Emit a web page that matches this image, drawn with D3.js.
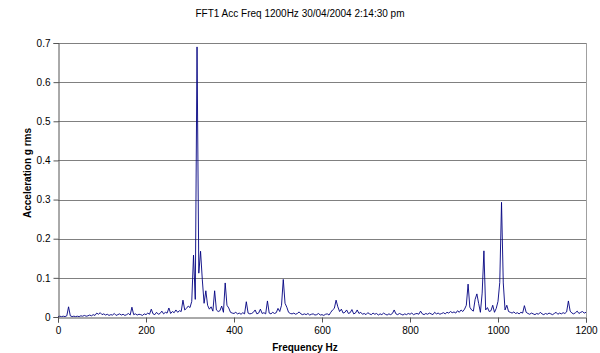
<!DOCTYPE html>
<html>
<head>
<meta charset="utf-8">
<script src="https://cdn.jsdelivr.net/npm/d3@7"></script>
<style>
  body { margin: 0; background: #fff; }
  text { font-family: "Liberation Sans", Arial, sans-serif; fill: #000; }
</style>
</head>
<body>
<div id="chart"></div>
<script>
(function() {
    'use strict';

    const chartTitle = "FFT1 Acc Freq 1200Hz 30/04/2004 2:14:30 pm";
    const xLabel = "Frequency Hz";
    const yLabel = "Acceleration g rms";
    const xTicks = [0, 200, 400, 600, 800, 1000, 1200];
    const yTicks = [0, 0.1, 0.2, 0.3, 0.4, 0.5, 0.6, 0.7];

    // spectrum lines, one every 4 Hz from 0 to 1200 Hz, amplitude in milli-g rms
    const binHz = 4;
    const ampMg = [
        1,2,1,2,1,3,26,3,1,2,
        1,2,1,3,2,4,2,3,5,3,
        6,4,10,7,11,6,8,5,7,4,
        6,5,9,4,6,8,5,7,4,6,
        9,5,25,6,8,5,7,6,4,8,
        6,10,7,20,8,6,12,7,9,15,
        8,12,10,23,9,14,11,18,12,16,
        14,43,18,22,28,24,40,158,45,690,
        112,168,95,35,67,30,20,26,15,67,
        18,14,16,28,12,87,30,23,12,10,
        9,12,8,10,7,11,8,39,10,8,
        9,12,18,8,10,20,9,11,8,41,
        10,8,12,9,11,22,14,30,96,35,
        25,12,9,8,10,7,9,13,8,6,
        8,6,9,5,7,8,5,6,9,5,
        6,4,7,8,5,12,18,22,43,26,
        14,20,10,12,18,9,11,19,8,10,
        18,9,12,7,9,6,11,8,6,10,
        7,9,5,8,6,10,7,5,8,6,
        9,18,8,6,9,7,5,8,6,9,
        7,10,6,8,9,7,15,8,6,9,
        7,10,8,6,12,8,10,7,9,11,
        8,12,10,14,11,13,10,16,12,18,
        14,20,30,84,25,18,15,45,59,35,
        12,61,169,18,24,14,16,30,12,22,
        40,88,293,87,18,30,14,12,10,13,
        9,11,8,12,10,29,12,9,7,10,
        8,6,9,7,12,8,6,9,7,10,
        8,6,9,12,7,10,8,11,9,13,
        41,15,10,8,11,15,9,12,14,10,12
    ];

    const width = 600;
    const height = 353;
    const margin = { top: 43, right: 14, bottom: 36, left: 58 };

    const svg = d3.select("#chart")
        .append("svg")
        .attr("width", width)
        .attr("height", height)
        .style("display", "block");

    svg.append("rect").attr("width", width).attr("height", height).attr("fill", "#fff");

    const x = d3.scaleLinear().domain([0, 1200]).range([margin.left, width - margin.right]);
    const y = d3.scaleLinear().domain([0, 0.7]).range([height - margin.bottom, margin.top]);

    //gridlines
    svg.append("g")
        .selectAll("line")
        .data(yTicks.filter(d => d > 0))
        .enter()
        .append("line")
        .attr("x1", x(0))
        .attr("x2", x(1200))
        .attr("y1", d => Math.round(y(d)) + 0.5)
        .attr("y2", d => Math.round(y(d)) + 0.5)
        .attr("stroke", "#808080")
        .attr("stroke-width", 1);

    // right border
    svg.append("line")
        .attr("x1", Math.round(x(1200)) + 0.5)
        .attr("x2", Math.round(x(1200)) + 0.5)
        .attr("y1", y(0.7))
        .attr("y2", y(0))
        .attr("stroke", "#a0a0a0");

    // spectrum line
    const line = d3.line()
        .x((d, i) => x(i * binHz))
        .y(d => y(d / 1000));

    svg.append("path")
        .datum(ampMg)
        .attr("d", line)
        .attr("fill", "none")
        .attr("stroke", "#000080")
        .attr("stroke-width", 0.9)
        .attr("stroke-linejoin", "miter");

    // axes
    const yAxis = svg.append("g")
        .attr("transform", `translate(${Math.round(x(0)) + 0.5},0)`)
        .call(d3.axisLeft(y).tickValues(yTicks).tickFormat(d => d === 0 ? "0" : d3.format(".1f")(d)).tickSize(5).tickPadding(3));

    const xAxis = svg.append("g")
        .attr("transform", `translate(0,${Math.round(y(0)) + 0.5})`)
        .call(d3.axisBottom(x).tickValues(xTicks).tickFormat(d3.format("d")).tickSize(5).tickPadding(4));

    [yAxis, xAxis].forEach(g => {
        g.select(".domain").attr("stroke", "#555");
        g.selectAll(".tick line").attr("stroke", "#555");
        g.selectAll("text")
            .style("font-family", '"Liberation Sans", Arial, sans-serif')
            .style("font-size", "10px")
            .attr("fill", "#000");
    });

    // titles
    svg.append("text")
        .attr("x", 300)
        .attr("y", 17)
        .attr("text-anchor", "middle")
        .attr("fill", "#000")
        .style("font-size", "10px")
        .text(chartTitle);

    svg.append("text")
        .attr("x", 305)
        .attr("y", 351)
        .attr("text-anchor", "middle")
        .attr("fill", "#000")
        .style("font-size", "10px")
        .style("font-weight", "bold")
        .text(xLabel);

    svg.append("text")
        .attr("transform", "translate(31,173) rotate(-90)")
        .attr("text-anchor", "middle")
        .attr("fill", "#000")
        .style("font-size", "10px")
        .style("font-weight", "bold")
        .text(yLabel);

})();
</script>
</body>
</html>
